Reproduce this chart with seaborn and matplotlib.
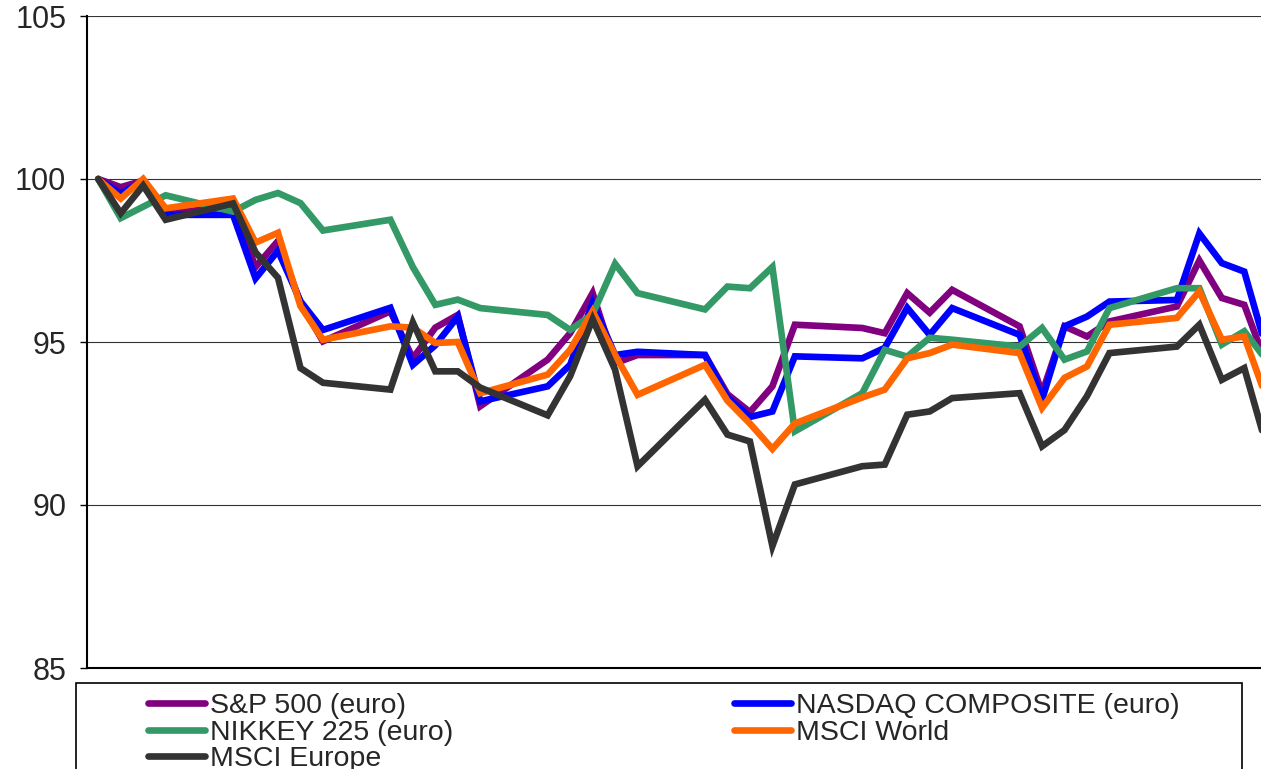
import pandas as pd
import matplotlib
matplotlib.use('Agg')
import matplotlib.pyplot as plt
from matplotlib.patches import Rectangle
import seaborn as sns

# Dữ liệu: chỉ số (gốc = 100), các ngày giao dịch
dates = pd.bdate_range('2011-03-01', periods=39)

sp500 = [100, 99.75, 99.95, 98.95, 99.15, 97.3, 98.1, 96.2, 95.02, 95.94,
         94.5, 95.44, 95.83, 93.03, 94.46, 95.27, 96.5, 94.35, 94.6, 94.6,
         93.4, 92.85, 93.64, 95.53, 95.43, 95.27, 96.5, 95.9, 96.6, 95.48,
         93.43, 95.48, 95.17, 95.63, 96.09, 97.5, 96.35, 96.14, 94.28]
nasdaq = [100, 99.55, 99.95, 98.9, 98.9, 96.95, 97.8, 96.25, 95.37, 96.05,
          94.3, 94.9, 95.78, 93.18, 93.64, 94.3, 96.2, 94.6, 94.7, 94.6,
          93.3, 92.7, 92.87, 94.56, 94.5, 94.82, 96.05, 95.22, 96.04, 95.22,
          93.23, 95.48, 95.78, 96.24, 96.29, 98.33, 97.42, 97.16, 94.74]
nikkei = [100, 98.8, 99.15, 99.5, 99.0, 99.36, 99.57, 99.26, 98.42, 98.75,
          97.3, 96.14, 96.3, 96.04, 95.83, 95.37, 95.85, 97.4, 96.5, 96.0,
          96.7, 96.65, 97.3, 92.26, 93.43, 94.76, 94.55, 95.13, 95.07, 94.86,
          95.43, 94.46, 94.71, 96.04, 96.65, 96.65, 94.92, 95.33, 94.43]
msci_world = [100, 99.4, 100.0, 99.1, 99.4, 98.05, 98.35, 96.1, 95.07, 95.48,
              95.44, 94.97, 95.0, 93.43, 94.0, 94.76, 95.94, 94.6, 93.38, 94.3,
              93.2, 92.5, 91.72, 92.5, 93.3, 93.54, 94.5, 94.66, 94.92, 94.66,
              92.98, 93.9, 94.25, 95.53, 95.74, 96.55, 95.07, 95.17, 93.25]
msci_europe = [100, 98.95, 99.8, 98.75, 99.25, 97.75, 96.97, 94.2, 93.75, 93.54,
               95.6, 94.1, 94.1, 93.6, 92.75, 93.95, 95.7, 94.15, 91.19, 93.23,
               92.16, 91.95, 88.74, 90.63, 91.19, 91.24, 92.77, 92.87, 93.28, 93.43,
               91.8, 92.3, 93.34, 94.66, 94.86, 95.53, 93.84, 94.2, 91.78]

series_names = ['S&P 500 (euro)', 'NASDAQ COMPOSITE (euro)', 'NIKKEY 225 (euro)',
                'MSCI World', 'MSCI Europe']
series_colors = ['#800080', '#0000FF', '#339966', '#FF6600', '#333333']

df = pd.DataFrame({
    'Ngày': list(dates) * 5,
    'Giá trị': sp500 + nasdaq + nikkei + msci_world + msci_europe,
    'Chỉ số': [n for n in series_names for _ in range(len(dates))],
})

sns.set_style('white')
plt.rcParams['font.family'] = ['Liberation Sans', 'DejaVu Sans']

fig = plt.figure(figsize=(12.61, 7.69), dpi=100)
W, H = 1261, 769
# trục kéo dài quá mép phải của ảnh (ảnh gốc bị cắt)
ax_left, ax_right, ax_top, ax_bottom = 87, 1278, 16, 668
ax = fig.add_axes([ax_left / W, 1 - ax_bottom / H,
                   (ax_right - ax_left) / W, (ax_bottom - ax_top) / H])

sns.lineplot(data=df, x='Ngày', y='Giá trị', hue='Chỉ số', hue_order=series_names,
             palette=dict(zip(series_names, series_colors)), linewidth=4.8,
             ax=ax, legend=True)
for ln in ax.get_lines():
    ln.set_solid_joinstyle('miter')

ax.set_ylim(85, 105)
ax.set_yticks([85, 90, 95, 100, 105])
ax.set_xlim(dates[0] - pd.Timedelta(hours=12), dates[-1] + pd.Timedelta(hours=12))
ax.set_xticks([])
ax.set_xlabel('')
ax.set_ylabel('')
ax.grid(axis='y', color='#333333', linewidth=0.8)
ax.set_axisbelow(True)
for s in ['top', 'right']:
    ax.spines[s].set_visible(False)
ax.spines['left'].set_color('black')
ax.spines['left'].set_linewidth(1.5)
ax.spines['bottom'].set_color('black')
ax.spines['bottom'].set_linewidth(1.5)
ax.tick_params(axis='y', direction='out', length=5, width=1, color='black',
               labelsize=22, pad=10, left=True)

# Chú thích: 2 cột, sắp xếp theo hàng
handles, labels = ax.get_legend_handles_labels()
ax.get_legend().remove()
order = [0, 2, 4, 1, 3]
leg = fig.legend([handles[i] for i in order], [labels[i] for i in order],
                 loc='upper left', bbox_to_anchor=(148 / W, 1 - 693 / H),
                 ncol=2, frameon=False, fontsize=20.5, borderpad=0,
                 handlelength=2.0, handletextpad=0.18, columnspacing=9.85,
                 labelspacing=0.02, borderaxespad=0)
for h in leg.get_lines():
    h.set_linewidth(4.8)
fig.patches.append(Rectangle((76 / W, -0.05), (1242 - 76) / W, 0.05 + 1 - 683 / H,
                             transform=fig.transFigure, fill=False,
                             edgecolor='black', linewidth=1.2))

fig.savefig('out.png', dpi=100)
